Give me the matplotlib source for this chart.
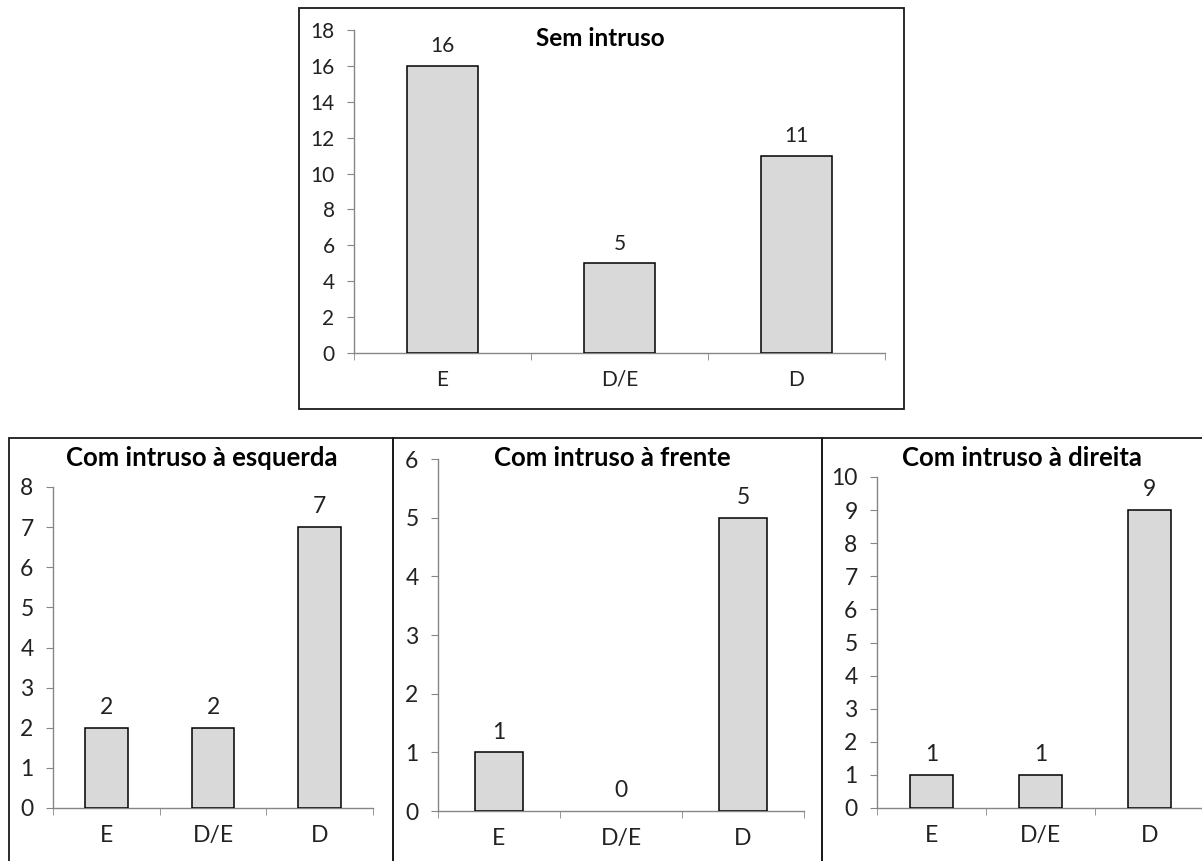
import matplotlib
matplotlib.use("Agg")
import matplotlib.pyplot as plt
from matplotlib.patches import Rectangle

plt.rcParams['font.family'] = ['Lato', 'DejaVu Sans']

categories = ["E", "D/E", "D"]

titles = ["Sem intruso", "Com intruso à esquerda", "Com intruso à frente", "Com intruso à direita"]
sem_intruso = [16, 5, 11]
esquerda = [2, 2, 7]
frente = [1, 0, 5]
direita = [1, 1, 9]
y_max = [18, 8, 6, 10]
y_step = [2, 1, 1, 1]

W, H = 1202, 861
fig = plt.figure(figsize=(W / 100, H / 100), dpi=100)


def px_box(x0, y0, x1, y1):
    # pixel box (top-left origin) -> figure fraction [left, bottom, width, height]
    return [x0 / W, 1 - y1 / H, (x1 - x0) / W, (y1 - y0) / H]


# frames around each chart
frames = [(299, 8, 904, 409), (9, 438, 393, 870), (393, 438, 822, 870), (822, 438, 1215, 870)]
for f in frames:
    fig.patches.append(Rectangle((f[0] / W, 1 - f[3] / H), (f[2] - f[0]) / W, (f[3] - f[1]) / H,
                                 transform=fig.transFigure, fill=False, ec="#1a1a1a", lw=1.3))

# axes positions in pixels: x-left, y-top(max), x-right, y-zero
axes_px = [(354, 30, 885, 353), (53, 487, 373, 808), (438, 459, 804, 811), (877, 477, 1204, 808)]
title_pos = [(600, 38), (202, 458), (612, 458), (1022, 458)]
tick_size = [15, 16.5, 16.5, 16.5]
title_size = [17.5, 18.5, 18.5, 18.5]
data = [sem_intruso, esquerda, frente, direita]

for i, vals in enumerate(data):
    x0, ytop, x1, yzero = axes_px[i]
    ax = fig.add_axes(px_box(x0, ytop, x1, yzero))
    bars = ax.bar(range(3), vals, width=0.4, color="#d9d9d9", edgecolor="black", linewidth=1.1, zorder=3)
    for b, v in zip(bars, vals):
        if v == 0:
            b.set_edgecolor("none")
        ax.annotate(str(v), (b.get_x() + b.get_width() / 2, v), xytext=(0, 7),
                    textcoords="offset points", ha="center", va="bottom",
                    fontsize=tick_size[i], color="#222222")
    ax.set_xlim(-0.5, 2.5)
    ax.set_ylim(0, y_max[i])
    ax.set_yticks(range(0, y_max[i] + 1, y_step[i]))
    ax.set_xticks(range(3))
    ax.set_xticklabels(categories)
    ax.set_xticks([-0.5, 0.5, 1.5, 2.5], minor=True)
    ax.tick_params(axis="x", which="major", length=0, pad=12, labelsize=tick_size[i], labelcolor="#222222")
    ax.tick_params(axis="x", which="minor", length=5, color="#868686", direction="out")
    ax.tick_params(axis="y", length=5, color="#868686", pad=9, labelsize=tick_size[i], labelcolor="#222222")
    for s in ["top", "right"]:
        ax.spines[s].set_visible(False)
    for s in ["left", "bottom"]:
        ax.spines[s].set_color("#868686")
        ax.spines[s].set_linewidth(1.0)
    ax.patch.set_alpha(0)
    tx, ty = title_pos[i]
    fig.text(tx / W, 1 - ty / H, titles[i], ha="center", va="center",
             fontsize=title_size[i], fontweight="bold", color="black")

fig.savefig("out.png", dpi=100, facecolor="white")
